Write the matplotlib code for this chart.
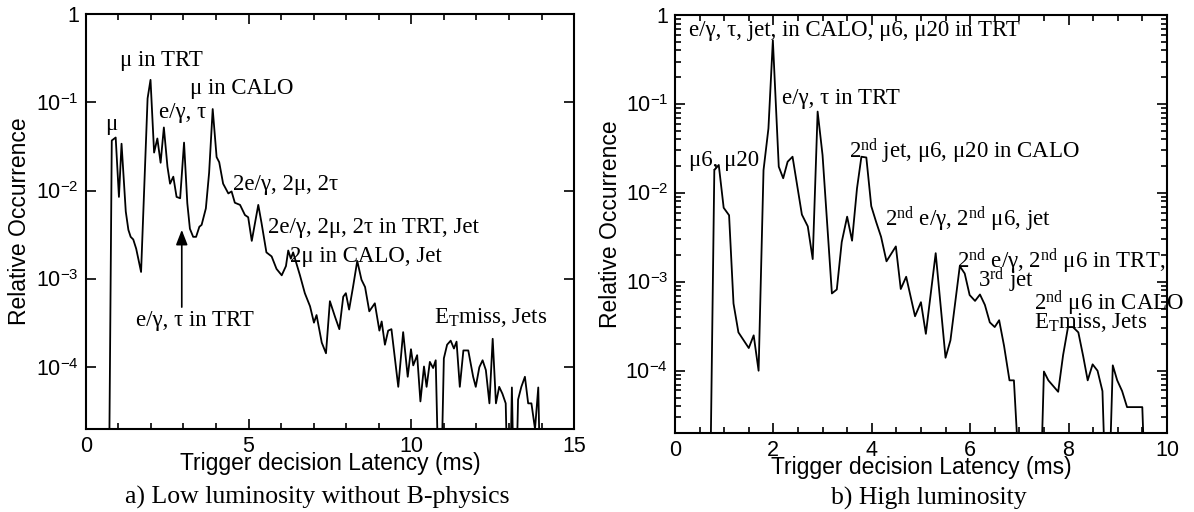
import numpy as np
import matplotlib
matplotlib.use("Agg")
import matplotlib.pyplot as plt
from matplotlib.ticker import FuncFormatter, MultipleLocator, LogLocator, NullLocator

# empty bins sit below the axis, they are drawn as 1e-6
low_x = [0.7, 0.8, 0.92, 1.02, 1.10, 1.23, 1.31, 1.38, 1.46, 1.55, 1.70, 1.90, 1.99,
         2.10, 2.20, 2.30, 2.40, 2.51, 2.59, 2.69, 2.79, 2.90, 3.02, 3.12, 3.20, 3.30,
         3.39, 3.49, 3.56, 3.69, 3.79, 3.90, 4.02, 4.10, 4.22, 4.38, 4.48, 4.58, 4.74,
         4.89, 4.99, 5.10, 5.30, 5.40, 5.55, 5.71, 5.86, 6.02, 6.15, 6.22, 6.30, 6.37,
         6.58, 6.73, 6.89, 7.01, 7.09, 7.25, 7.38, 7.50, 7.66, 7.79, 7.91, 7.99, 8.09,
         8.21, 8.34, 8.47, 8.58, 8.71, 8.88, 9.02, 9.09, 9.19, 9.29, 9.39, 9.60, 9.75,
         9.89, 9.99, 10.06, 10.18, 10.28, 10.39, 10.47, 10.57, 10.67, 10.75, 10.88,
         11.0, 11.1, 11.21, 11.31, 11.39, 11.49, 11.6, 11.75, 11.9, 11.98, 12.09,
         12.19, 12.29, 12.4, 12.5, 12.6, 12.7, 12.8, 12.9, 13.0, 13.09, 13.18, 13.28,
         13.38, 13.49, 13.59, 13.69, 13.8, 13.9, 14.0]
low_y = [1e-6, 0.037, 0.040, 0.0085, 0.034, 0.0058, 0.0036, 0.0030, 0.0028, 0.0022,
         0.0012, 0.111, 0.18, 0.027, 0.039, 0.0207, 0.052, 0.0187, 0.012, 0.0144,
         0.0085, 0.0082, 0.035, 0.0072, 0.0037, 0.0030, 0.0030, 0.0039, 0.0041,
         0.0063, 0.016, 0.084, 0.024, 0.021, 0.012, 0.0093, 0.0098, 0.0073, 0.0069,
         0.0053, 0.0050, 0.0027, 0.0069, 0.0043, 0.0020, 0.0018, 0.0013, 0.0011,
         0.0014, 0.0021, 0.0017, 0.0020, 0.0011, 6.9e-4, 4.9e-4, 3.2e-4, 3.9e-4,
         1.9e-4, 1.44e-4, 5.6e-4, 3.7e-4, 2.7e-4, 6.3e-4, 6.9e-4, 4.5e-4, 8.1e-4,
         1.6e-3, 9.8e-4, 8.1e-4, 4.3e-4, 5.3e-4, 2.6e-4, 3.3e-4, 1.8e-4, 2.6e-4,
         2.7e-4, 6.0e-5, 2.5e-4, 7.8e-5, 1.6e-4, 1.05e-4, 1.37e-4, 4.1e-5, 1.02e-4,
         6.0e-5, 1.15e-4, 9.8e-5, 1.2e-4, 1e-6, 1.26e-4, 1.8e-4, 2.0e-4, 1.63e-4,
         1.95e-4, 6.0e-5, 1.55e-4, 1.55e-4, 7.8e-5, 6.0e-5, 1.0e-4, 1.2e-4, 9.3e-5,
         3.9e-5, 2.1e-4, 3.9e-5, 6.0e-5, 5.0e-5, 3.9e-5, 1e-6, 5.9e-5, 1e-6, 4.3e-5,
         6.0e-5, 7.8e-5, 3.9e-5, 3.9e-5, 2.0e-5, 5.9e-5, 1e-6]

high_x = [0.70, 0.80, 0.89, 0.99, 1.10, 1.19, 1.29, 1.50, 1.60, 1.70, 1.80, 1.90, 1.99,
          2.11, 2.20, 2.29, 2.39, 2.58, 2.70, 2.80, 2.90, 3.00, 3.19, 3.29, 3.39, 3.50,
          3.60, 3.70, 3.79, 3.89, 3.99, 4.09, 4.19, 4.30, 4.49, 4.59, 4.70, 4.88, 5.00,
          5.10, 5.30, 5.50, 5.60, 5.79, 5.89, 5.99, 6.10, 6.20, 6.30, 6.40, 6.50, 6.59,
          6.69, 6.80, 6.89, 7.08, 7.40, 7.50, 7.59, 7.79, 7.89, 7.99, 8.09, 8.20, 8.30,
          8.39, 8.49, 8.59, 8.69, 8.79, 8.90, 8.99, 9.09, 9.19, 9.50, 9.60]
high_y = [1e-6, 0.018, 0.0206, 0.0068, 0.0056, 5.7e-4, 2.7e-4, 1.8e-4, 2.5e-4, 1.0e-4,
          0.018, 0.053, 0.52, 0.0197, 0.0146, 0.0224, 0.0255, 0.0057, 0.0042, 0.0018,
          0.082, 0.0266, 7.4e-4, 8.2e-4, 0.0028, 0.0054, 0.0029, 0.0112, 0.0255, 0.025,
          0.0071, 0.0047, 0.0032, 0.0017, 0.0025, 8.3e-4, 0.00114, 4.1e-4, 5.9e-4,
          2.6e-4, 0.0021, 1.4e-4, 2.2e-4, 0.0015, 0.00124, 7.1e-4, 6.1e-4, 7.2e-4,
          5.5e-4, 3.5e-4, 3.1e-4, 3.7e-4, 1.9e-4, 7.8e-5, 7.8e-5, 1e-6, 1e-6, 9.8e-5,
          7.8e-5, 5.8e-5, 1.5e-4, 3.1e-4, 3.1e-4, 2.7e-4, 1.44e-4, 7.8e-5, 1.18e-4,
          1.0e-4, 5.9e-5, 1e-6, 1.15e-4, 7.8e-5, 5.9e-5, 3.9e-5, 3.9e-5, 1e-6]

# (text, x, y) with left edge / baseline at the point
low_notes = [
    ("μ", 0.59, 0.0485),
    ("μ in TRT", 1.06, 0.258),
    ("e/γ, τ", 2.26, 0.066),
    ("μ in CALO", 3.20, 0.124),
    ("2e/γ, 2μ, 2τ", 4.53, 0.0102),
    ("2e/γ, 2μ, 2τ in TRT, Jet", 5.6, 0.0033),
    ("2μ in CALO, Jet", 6.26, 0.00157),
    ("e/γ, τ in TRT", 1.54, 2.93e-4),
    ("E$_{\\rm T}$miss, Jets", 10.71, 3.19e-4),
]
high_notes = [
    ("e/γ, τ, jet, in CALO, μ6, μ20 in TRT", 0.28, 0.585),
    ("e/γ, τ in TRT", 2.17, 0.099),
    ("μ6, μ20", 0.28, 0.0202),
    ("2$^{\\rm nd}$ jet, μ6, μ20 in CALO", 3.53, 0.0244),
    ("2$^{\\rm nd}$ e/γ, 2$^{\\rm nd}$ μ6, jet", 4.26, 0.00427),
    ("2$^{\\rm nd}$ e/γ, 2$^{\\rm nd}$ μ6 in TRT,", 5.73, 0.00142),
    ("3$^{\\rm rd}$ jet", 6.17, 8.6e-4),
    ("2$^{\\rm nd}$ μ6 in CALO", 7.30, 4.8e-4),
    ("E$_{\\rm T}$miss, Jets", 7.30, 3.0e-4),
]

plt.rcParams["font.family"] = "Liberation Sans"
plt.rcParams["mathtext.fontset"] = "custom"
plt.rcParams["mathtext.rm"] = "Liberation Serif"
plt.rcParams["mathtext.it"] = "Liberation Serif:italic"
plt.rcParams["mathtext.sf"] = "Liberation Sans"

SERIF = "Liberation Serif"
NOTE_SIZE = 16.5


def log_label(v, pos):
    e = int(round(np.log10(v)))
    if e == 0:
        return "1"
    return "10$^{\\mathsf{%d}}$" % e


def style_axis(ax, xmax, major, minor, log_minor):
    ax.set_yscale("log")
    ax.set_xlim(0, xmax)
    ax.set_ylim(10 ** -4.7, 1)
    ax.xaxis.set_major_locator(MultipleLocator(major))
    ax.xaxis.set_minor_locator(MultipleLocator(minor))
    ax.yaxis.set_major_locator(LogLocator(base=10, numticks=10))
    if log_minor:
        ax.yaxis.set_minor_locator(LogLocator(base=10, subs=np.arange(2, 10), numticks=10))
    else:
        ax.yaxis.set_minor_locator(NullLocator())
    ax.yaxis.set_major_formatter(FuncFormatter(log_label))
    ax.tick_params(which="both", direction="in", top=True, right=True, width=1.2)
    ax.tick_params(which="major", length=7, labelsize=15.5, pad=5)
    ax.tick_params(which="minor", length=4)
    for s in ax.spines.values():
        s.set_linewidth(1.5)
    ax.set_xlabel("Trigger decision Latency (ms)", fontsize=16.5)
    ax.set_ylabel("Relative Occurrence", fontsize=16.5)
    ax.xaxis.set_label_coords(0.5, -0.055)


fig = plt.figure(figsize=(11.94, 5.12), dpi=100)
ax1 = fig.add_axes([0.0718, 0.162, 0.409, 0.8105])
ax2 = fig.add_axes([0.5653, 0.1543, 0.412, 0.8164])

ax1.plot(low_x, low_y, color="black", lw=1.3)
style_axis(ax1, 15, 5, 1, False)
ax1.yaxis.set_label_coords(-0.112, 0.5)
for txt, x, y in low_notes:
    ax1.text(x, y, txt, family=SERIF, fontsize=NOTE_SIZE, ha="left", va="baseline")
ax1.annotate("", xy=(2.95, 3.6e-3), xytext=(2.95, 4.8e-4),
             arrowprops=dict(arrowstyle="-|>,head_width=0.35,head_length=0.9",
                             color="black", lw=1.2, shrinkA=0, shrinkB=0))

ax2.plot(high_x, high_y, color="black", lw=1.3)
style_axis(ax2, 10, 2, 0.5, True)
ax2.yaxis.set_label_coords(-0.108, 0.5)
for txt, x, y in high_notes:
    ax2.text(x, y, txt, family=SERIF, fontsize=NOTE_SIZE, ha="left", va="baseline",
             clip_on=False)

fig.text(0.2655, 0.029, "a) Low luminosity without B-physics", family=SERIF,
         fontsize=18.5, ha="center", va="center")
fig.text(0.778, 0.027, "b) High luminosity", family=SERIF,
         fontsize=18.5, ha="center", va="center")

fig.savefig("out.png", dpi=100)
